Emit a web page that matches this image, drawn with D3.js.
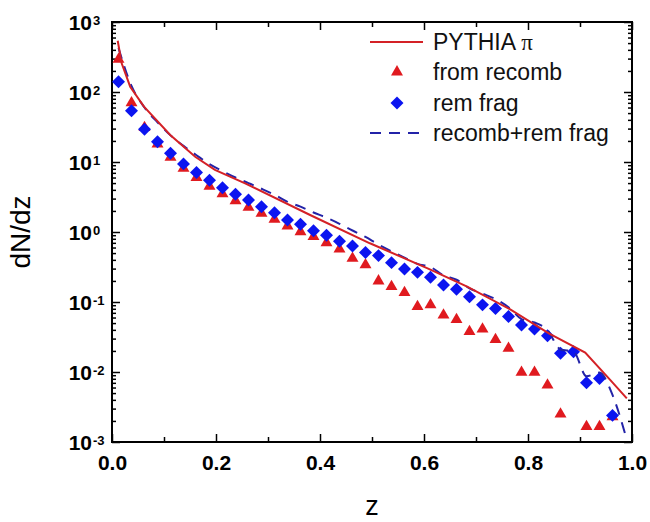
<!DOCTYPE html>
<html>
<head>
<meta charset="utf-8">
<script src="https://cdn.jsdelivr.net/npm/d3@7"></script>
<style>
body { margin: 0; background: #fff; }
text { font-family: Arial, "Liberation Sans", sans-serif; }
</style>
</head>
<body>
<script>
var width = 650,
  height = 522;

// z grid of the histogram points
const zBins = [0.0125, 0.0375, 0.0625, 0.0875, 0.1125, 0.1375, 0.1625, 0.1875, 0.2125, 0.2375,
  0.2625, 0.2875, 0.3125, 0.3375, 0.3625, 0.3875, 0.4125, 0.4375, 0.4625, 0.4875,
  0.5125, 0.5375, 0.5625, 0.5875, 0.6125, 0.6375, 0.6625, 0.6875, 0.7125, 0.7375,
  0.7625, 0.7875, 0.8125, 0.8375, 0.8625, 0.8875, 0.9125, 0.9375, 0.9625, 0.9875];

// from recomb (triangles), null = not shown
const recomb = [293, 70, 31, 18, 11.7, 8.1, 6.0, 4.5, 3.5, 2.8,
  2.25, 1.85, 1.52, 1.22, 1.01, 0.86, 0.70, 0.57, 0.42, 0.34,
  0.20, 0.166, 0.136, 0.086, 0.091, 0.065, 0.056, 0.0377, 0.041, 0.029,
  0.0218, 0.0099, 0.0099, 0.0065, 0.0025, null, 0.00166, 0.00166, 0.0023, null];

// rem frag (diamonds)
const remFrag = [140, 54, 29.3, 19.5, 13.3, 9.4, 7.1, 5.5, 4.3, 3.45,
  2.86, 2.3, 1.89, 1.48, 1.29, 1.04, 0.90, 0.74, 0.63, 0.51,
  0.46, 0.365, 0.296, 0.265, 0.225, 0.175, 0.152, 0.119, 0.091, 0.081,
  0.062, 0.047, 0.041, 0.033, 0.0185, 0.0195, 0.0070, 0.0081, 0.0024, null];

// recomb+rem frag (dashed)
const total = [425, 122, 60, 37, 24, 17, 12.5, 9.3, 7.4, 6.0,
  5.0, 4.15, 3.4, 2.7, 2.3, 1.9, 1.6, 1.31, 1.05, 0.85,
  0.66, 0.53, 0.43, 0.35, 0.316, 0.24, 0.208, 0.157, 0.132, 0.110,
  0.084, 0.057, 0.051, 0.0395, 0.021, 0.0196, 0.0087, 0.0098, 0.0047, 0.00125];

// PYTHIA pi (solid red)
const pythiaZ = [0.011, 0.0186, 0.035, 0.0615, 0.112, 0.16, 0.198, 0.256, 0.381, 0.496,
  0.608, 0.683, 0.765, 0.84, 0.91, 0.958, 0.99];
const pythiaV = [540, 257, 119, 61.7, 24.3, 11.9, 7.7, 4.96, 1.75, 0.69,
  0.30, 0.166, 0.079, 0.0357, 0.0189, 0.0077, 0.0042];

const xMajor = [0, 0.2, 0.4, 0.6, 0.8, 1.0];
const xMinor = [0.1, 0.3, 0.5, 0.7, 0.9];
const xTickLabels = ["0.0", "0.2", "0.4", "0.6", "0.8", "1.0"];
const yExponents = [-3, -2, -1, 0, 1, 2, 3];

const red = "#e01a1f",
  lineRed = "#d42126",
  blue = "#0b14f0",
  navy = "#2323a8";

const svg = d3
  .select("body")
  .append("svg")
  .attr("width", width)
  .attr("height", height);

const x = d3.scaleLinear().domain([0, 1]).range([112, 632]);
const y = d3.scaleLog().domain([1e-3, 1e3]).range([442, 22]);

const yMajor = yExponents.map((e) => Math.pow(10, e));
const yMinor = [];
yExponents.slice(0, -1).forEach((e) => {
  for (let k = 2; k < 10; k++) yMinor.push(k * Math.pow(10, e));
});

// ticks (all pointing inward)
function ticks(axis, tr, vals, len) {
  svg
    .append("g")
    .attr("transform", tr)
    .call(axis.tickValues(vals).tickSize(-len).tickFormat(""))
    .call((g) => g.select(".domain").remove())
    .call((g) => g.selectAll("line").attr("stroke", "#000").attr("stroke-width", 1.5));
}
ticks(d3.axisBottom(x), "translate(0,442)", xMajor, 8);
ticks(d3.axisBottom(x), "translate(0,442)", xMinor, 5);
ticks(d3.axisTop(x), "translate(0,22)", xMajor, 8);
ticks(d3.axisTop(x), "translate(0,22)", xMinor, 5);
ticks(d3.axisLeft(y), "translate(112,0)", yMajor, 8);
ticks(d3.axisLeft(y), "translate(112,0)", yMinor, 4);
ticks(d3.axisRight(y), "translate(632,0)", yMajor, 8);
ticks(d3.axisRight(y), "translate(632,0)", yMinor, 4);

// x tick labels
svg
  .append("g")
  .attr("transform", "translate(0,442)")
  .call(
    d3
      .axisBottom(x)
      .tickValues(xMajor)
      .tickSize(0)
      .tickPadding(13)
      .tickFormat((d, i) => xTickLabels[i])
  )
  .call((g) => g.select(".domain").remove())
  .selectAll("text")
  .attr("fill", "#000")
  .style("font-family", "Arial, 'Liberation Sans', sans-serif")
  .style("font-size", "21px")
  .style("font-weight", "bold");

// y tick labels 10^n
const yl = svg.append("g");
yExponents.forEach((e) => {
  const v = Math.pow(10, e);
  yl.append("text")
    .attr("x", 92)
    .attr("y", y(v) + 8)
    .attr("text-anchor", "end")
    .style("font-size", "21px")
    .style("font-weight", "bold")
    .text("10");
  yl.append("text")
    .attr("x", 93)
    .attr("y", y(v) + 3)
    .style("font-size", "13px")
    .style("font-weight", "bold")
    .text(e < 0 ? "-" + -e : e);
});

// frame
svg
  .append("rect")
  .attr("x", 112)
  .attr("y", 22)
  .attr("width", 520)
  .attr("height", 420)
  .attr("fill", "none")
  .attr("stroke", "#000")
  .attr("stroke-width", 2);

// axis titles
svg
  .append("text")
  .attr("transform", "translate(30,232) rotate(-90)")
  .attr("text-anchor", "middle")
  .style("font-size", "28px")
  .text("dN/dz");
svg
  .append("text")
  .attr("x", 372)
  .attr("y", 515)
  .attr("text-anchor", "middle")
  .style("font-size", "27px")
  .text("z");

const plot = svg.append("g");

const tri = d3.symbol().type(d3.symbolTriangle).size(62);
const dia = d3.symbol().type(d3.symbolSquare).size(84);

plot
  .selectAll(".tri")
  .data(zBins.map((z, i) => [z, recomb[i]]).filter((d) => d[1] != null))
  .enter()
  .append("path")
  .attr("class", "tri")
  .attr("d", tri)
  .attr("fill", red)
  .attr("transform", (d) => `translate(${x(d[0])},${y(d[1])})`);

plot
  .selectAll(".dia")
  .data(zBins.map((z, i) => [z, remFrag[i]]).filter((d) => d[1] != null))
  .enter()
  .append("path")
  .attr("class", "dia")
  .attr("d", dia)
  .attr("fill", blue)
  .attr("transform", (d) => `translate(${x(d[0])},${y(d[1])}) rotate(45)`);

const line = d3
  .line()
  .x((d) => x(d[0]))
  .y((d) => y(d[1]));

plot
  .append("path")
  .datum(zBins.map((z, i) => [z, total[i]]))
  .attr("d", line.curve(d3.curveMonotoneX))
  .attr("fill", "none")
  .attr("stroke", navy)
  .attr("stroke-width", 2)
  .attr("stroke-dasharray", "11,8");

plot
  .append("path")
  .datum(pythiaZ.map((z, i) => [z, pythiaV[i]]))
  .attr("d", line.curve(d3.curveLinear))
  .attr("fill", "none")
  .attr("stroke", lineRed)
  .attr("stroke-width", 2);

// legend
const leg = svg.append("g");
const rows = [42, 72, 103, 133];
leg.append("line").attr("x1", 370).attr("x2", 423).attr("y1", rows[0]).attr("y2", rows[0])
  .attr("stroke", lineRed).attr("stroke-width", 2);
leg.append("path").attr("d", tri).attr("fill", red)
  .attr("transform", `translate(397,${rows[1]})`);
leg.append("path").attr("d", dia).attr("fill", blue)
  .attr("transform", `translate(397,${rows[2]}) rotate(45)`);
leg.append("line").attr("x1", 370).attr("x2", 423).attr("y1", rows[3]).attr("y2", rows[3])
  .attr("stroke", navy).attr("stroke-width", 2).attr("stroke-dasharray", "11,8");

const labels = ["PYTHIA ", "from recomb", "rem frag", "recomb+rem frag"];
labels.forEach((t, i) => {
  const tx = leg
    .append("text")
    .attr("x", 433)
    .attr("y", rows[i] + 8)
    .style("font-size", "23px")
    .attr("fill", "#111")
    .text(t);
  if (i === 0)
    tx.append("tspan")
      .style("font-family", "'Liberation Serif', 'Times New Roman', serif")
      .text("π");
});
</script>
</body>
</html>
